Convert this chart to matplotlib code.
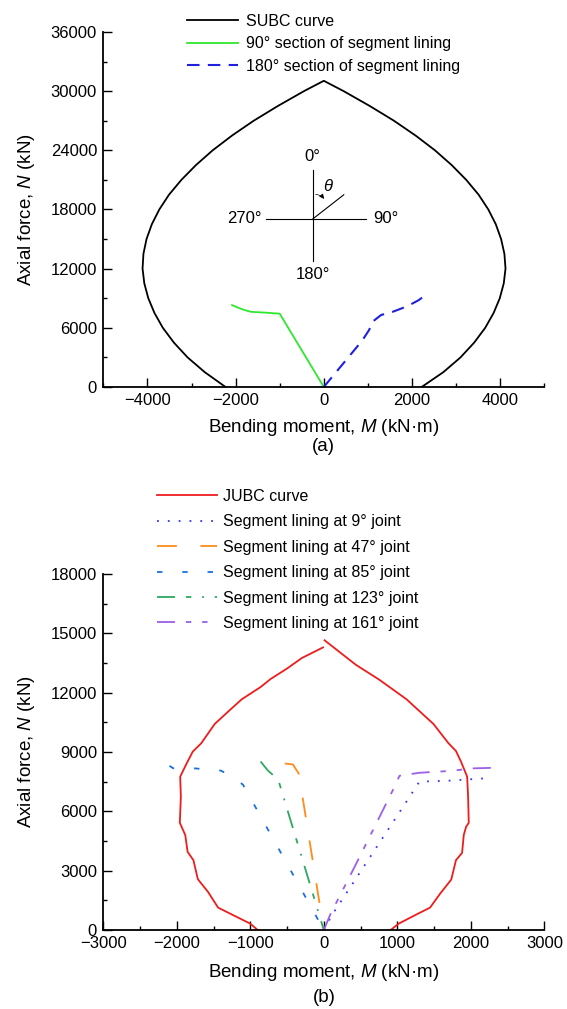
import matplotlib
matplotlib.use("Agg")
import matplotlib.pyplot as plt
from matplotlib.ticker import MultipleLocator

plt.rcParams['font.family'] = ['Liberation Sans', 'DejaVu Sans']
plt.rcParams['mathtext.fontset'] = 'custom'
plt.rcParams['mathtext.rm'] = 'Liberation Sans'
plt.rcParams['mathtext.it'] = 'Liberation Sans:italic'
plt.rcParams['font.size'] = 11.5

# (a) SUBC curve, left branch bottom -> top, right branch top -> bottom
subc_m = [-2230, -2700, -3090, -3400, -3650, -3840, -3980, -4070, -4110, -4090,
          -4020, -3900, -3730, -3510, -3230, -2900, -2520, -2080, -1590, -1040,
          -450, 0,
          450, 1040, 1590, 2080, 2520, 2900, 3230, 3510, 3730, 3900, 4020, 4095,
          4120, 4080, 3990, 3850, 3660, 3410, 3100, 2710, 2220]
subc_n = [0, 1500, 3000, 4500, 6000, 7500, 9000, 10500, 12000, 13500,
          15000, 16500, 18000, 19500, 21000, 22500, 24000, 25500, 27000, 28500,
          30000, 31050,
          30000, 28500, 27000, 25500, 24000, 22500, 21000, 19500, 18000, 16500, 15000, 13500,
          12000, 10500, 9000, 7500, 6000, 4500, 3000, 1500, 0]

# (a) 90 degree section
sec90_m = [-2080, -1950, -1800, -1650, -1300, -1000, 0]
sec90_n = [8300, 8050, 7800, 7620, 7530, 7430, 0]

# (a) 180 degree section
sec180_m = [0, 870, 1030, 1100, 1300, 1550, 1900, 2150, 2380]
sec180_n = [0, 4700, 5800, 6600, 7300, 7600, 8200, 8800, 9550]

# (b) JUBC curve
jubc_left_m = [-900, -1000, -1276, -1438, -1576, -1714, -1774, -1853, -1885, -1959,
               -1945, -1954, -1876, -1783, -1668, -1484, -1276, -1115, -862, -724,
               -493, -300, -10]
jubc_left_n = [0, 320, 830, 1130, 1930, 2570, 3530, 3950, 4800, 5420,
               6740, 7750, 8350, 9020, 9440, 10420, 11130, 11670, 12280, 12690,
               13240, 13750, 14290]
jubc_right_m = [10, 436, 757, 1124, 1491, 1697, 1798, 1867, 1950, 1963, 1972,
                1936, 1904, 1881, 1798, 1734, 1583, 1445, 1284, 1018, 910]
jubc_right_n = [14650, 13410, 12650, 11670, 10420, 9440, 9050, 8510, 7750, 6740, 5420,
                5220, 4800, 3900, 3530, 2550, 1840, 1130, 830, 320, 0]

# (b) segment lining at joints
j9_m = [0, 110, 1170, 1300, 1700, 2200]
j9_n = [0, 750, 6750, 7500, 7550, 7670]
j47_m = [-530, -420, -340, 0]
j47_n = [8420, 8370, 7900, 0]
j85_m = [-2100, -2050, -1750, -1400, -1250, -1100, 0]
j85_n = [8300, 8180, 8170, 8060, 7750, 7350, 0]
j123_m = [-860, -760, -620, 0]
j123_n = [8520, 8060, 7600, 0]
j161_m = [0, 90, 420, 950, 1030, 1300, 1750, 2000, 2300]
j161_n = [0, 800, 3200, 7150, 7800, 7950, 8050, 8170, 8200]

fig = plt.figure(figsize=(5.67, 10.09), dpi=100)
ax1 = fig.add_axes([0.1822, 0.6165, 0.7778, 0.3518])
ax2 = fig.add_axes([0.1822, 0.0783, 0.7778, 0.3528])


def style_axes(ax):
    for s in ['top', 'right']:
        ax.spines[s].set_visible(False)
    for s in ['left', 'bottom']:
        ax.spines[s].set_linewidth(1.3)
    ax.tick_params(which='major', direction='in', length=6.5, width=1.0, pad=4.5,
                   labelsize=12)
    ax.tick_params(which='minor', direction='in', length=3.2, width=1.0)
    ax.set_xlabel('Bending moment, $M$ (kN·m)', fontsize=13.5)
    ax.set_ylabel('Axial force, $N$ (kN)', fontsize=13.5)


# ---- (a)
ax1.plot(subc_m, subc_n, color='black', lw=1.3, label='SUBC curve')
ax1.plot(sec90_m, sec90_n, color='#2ee82e', lw=1.3, label='90° section of segment lining')
ax1.plot(sec180_m, sec180_n, color='#2020e0', lw=1.5, linestyle=(0, (6, 4)),
         label='180° section of segment lining')
ax1.set_xlim(-5000, 5000)
ax1.set_ylim(0, 36000)
ax1.xaxis.set_major_locator(MultipleLocator(2000))
ax1.xaxis.set_minor_locator(MultipleLocator(1000))
ax1.yaxis.set_major_locator(MultipleLocator(6000))
ax1.yaxis.set_minor_locator(MultipleLocator(3000))
style_axes(ax1)

# angle sketch
ax1.plot([-250, -250], [12780, 22050], color='black', lw=0.8)
ax1.plot([-1300, 960], [17040, 17040], color='black', lw=0.8)
ax1.plot([-250, 453], [17040, 19490], color='black', lw=0.8)
ax1.annotate('', xy=(39, 18830), xytext=(-250, 19510),
             arrowprops=dict(arrowstyle='-|>', connectionstyle='arc3,rad=-0.35',
                             lw=0.5, color='black', mutation_scale=7))
ax1.text(-250, 23330, '0°', ha='center', va='center', fontsize=12)
ax1.text(-1400, 17040, '270°', ha='right', va='center', fontsize=12)
ax1.text(1130, 17040, '90°', ha='left', va='center', fontsize=12)
ax1.text(-250, 11430, '180°', ha='center', va='center', fontsize=12)
ax1.text(77, 20355, 'θ', ha='center', va='center', style='italic', fontsize=12)

ax1.legend(loc='upper left', bbox_to_anchor=(187 / 567, 1 - 13.5 / 1009),
           bbox_transform=fig.transFigure, frameon=False, borderpad=0,
           borderaxespad=0, handlelength=3.2, handletextpad=0.5, labelspacing=0.48)
ax1.xaxis.set_label_coords(0.5, -0.085)
ax1.yaxis.set_label_coords(-0.15, 0.5)
ax1.text(0.5, -0.168, '(a)', transform=ax1.transAxes, ha='center', va='center',
         fontsize=13.5)

# ---- (b)
ax2.plot(jubc_left_m, jubc_left_n, color='#ee1c1c', lw=1.3, label='JUBC curve')
ax2.plot(jubc_right_m, jubc_right_n, color='#ee1c1c', lw=1.3)
ax2.plot(j9_m, j9_n, color='#3333ff', lw=1.3, linestyle=(0, (1, 5)),
         label='Segment lining at 9° joint')
ax2.plot(j47_m, j47_n, color='#ff8c1a', lw=1.3, linestyle=(0, (11, 13)),
         label='Segment lining at 47° joint')
ax2.plot(j85_m, j85_n, color='#1a6fe0', lw=1.3, linestyle=(0, (3, 11)),
         label='Segment lining at 85° joint')
ax2.plot(j123_m, j123_n, color='#2ea860', lw=1.3, linestyle=(0, (10, 6, 3, 6, 1, 6)),
         label='Segment lining at 123° joint')
ax2.plot(j161_m, j161_n, color='#9b5fe8', lw=1.3, linestyle=(0, (10, 6, 3, 6, 3, 6)),
         label='Segment lining at 161° joint')
ax2.set_xlim(-3000, 3000)
ax2.set_ylim(0, 18000)
ax2.xaxis.set_major_locator(MultipleLocator(1000))
ax2.xaxis.set_minor_locator(MultipleLocator(500))
ax2.yaxis.set_major_locator(MultipleLocator(3000))
ax2.yaxis.set_minor_locator(MultipleLocator(1500))
style_axes(ax2)

ax2.legend(loc='upper left', bbox_to_anchor=(157 / 567, 1 - 489 / 1009),
           bbox_transform=fig.transFigure, frameon=False, borderpad=0,
           borderaxespad=0, handlelength=3.75, handletextpad=0.4, labelspacing=0.65)
ax2.xaxis.set_label_coords(0.5, -0.09)
ax2.yaxis.set_label_coords(-0.15, 0.5)
ax2.text(0.5, -0.19, '(b)', transform=ax2.transAxes, ha='center', va='center',
         fontsize=13.5)

fig.savefig('out.png', dpi=100)
